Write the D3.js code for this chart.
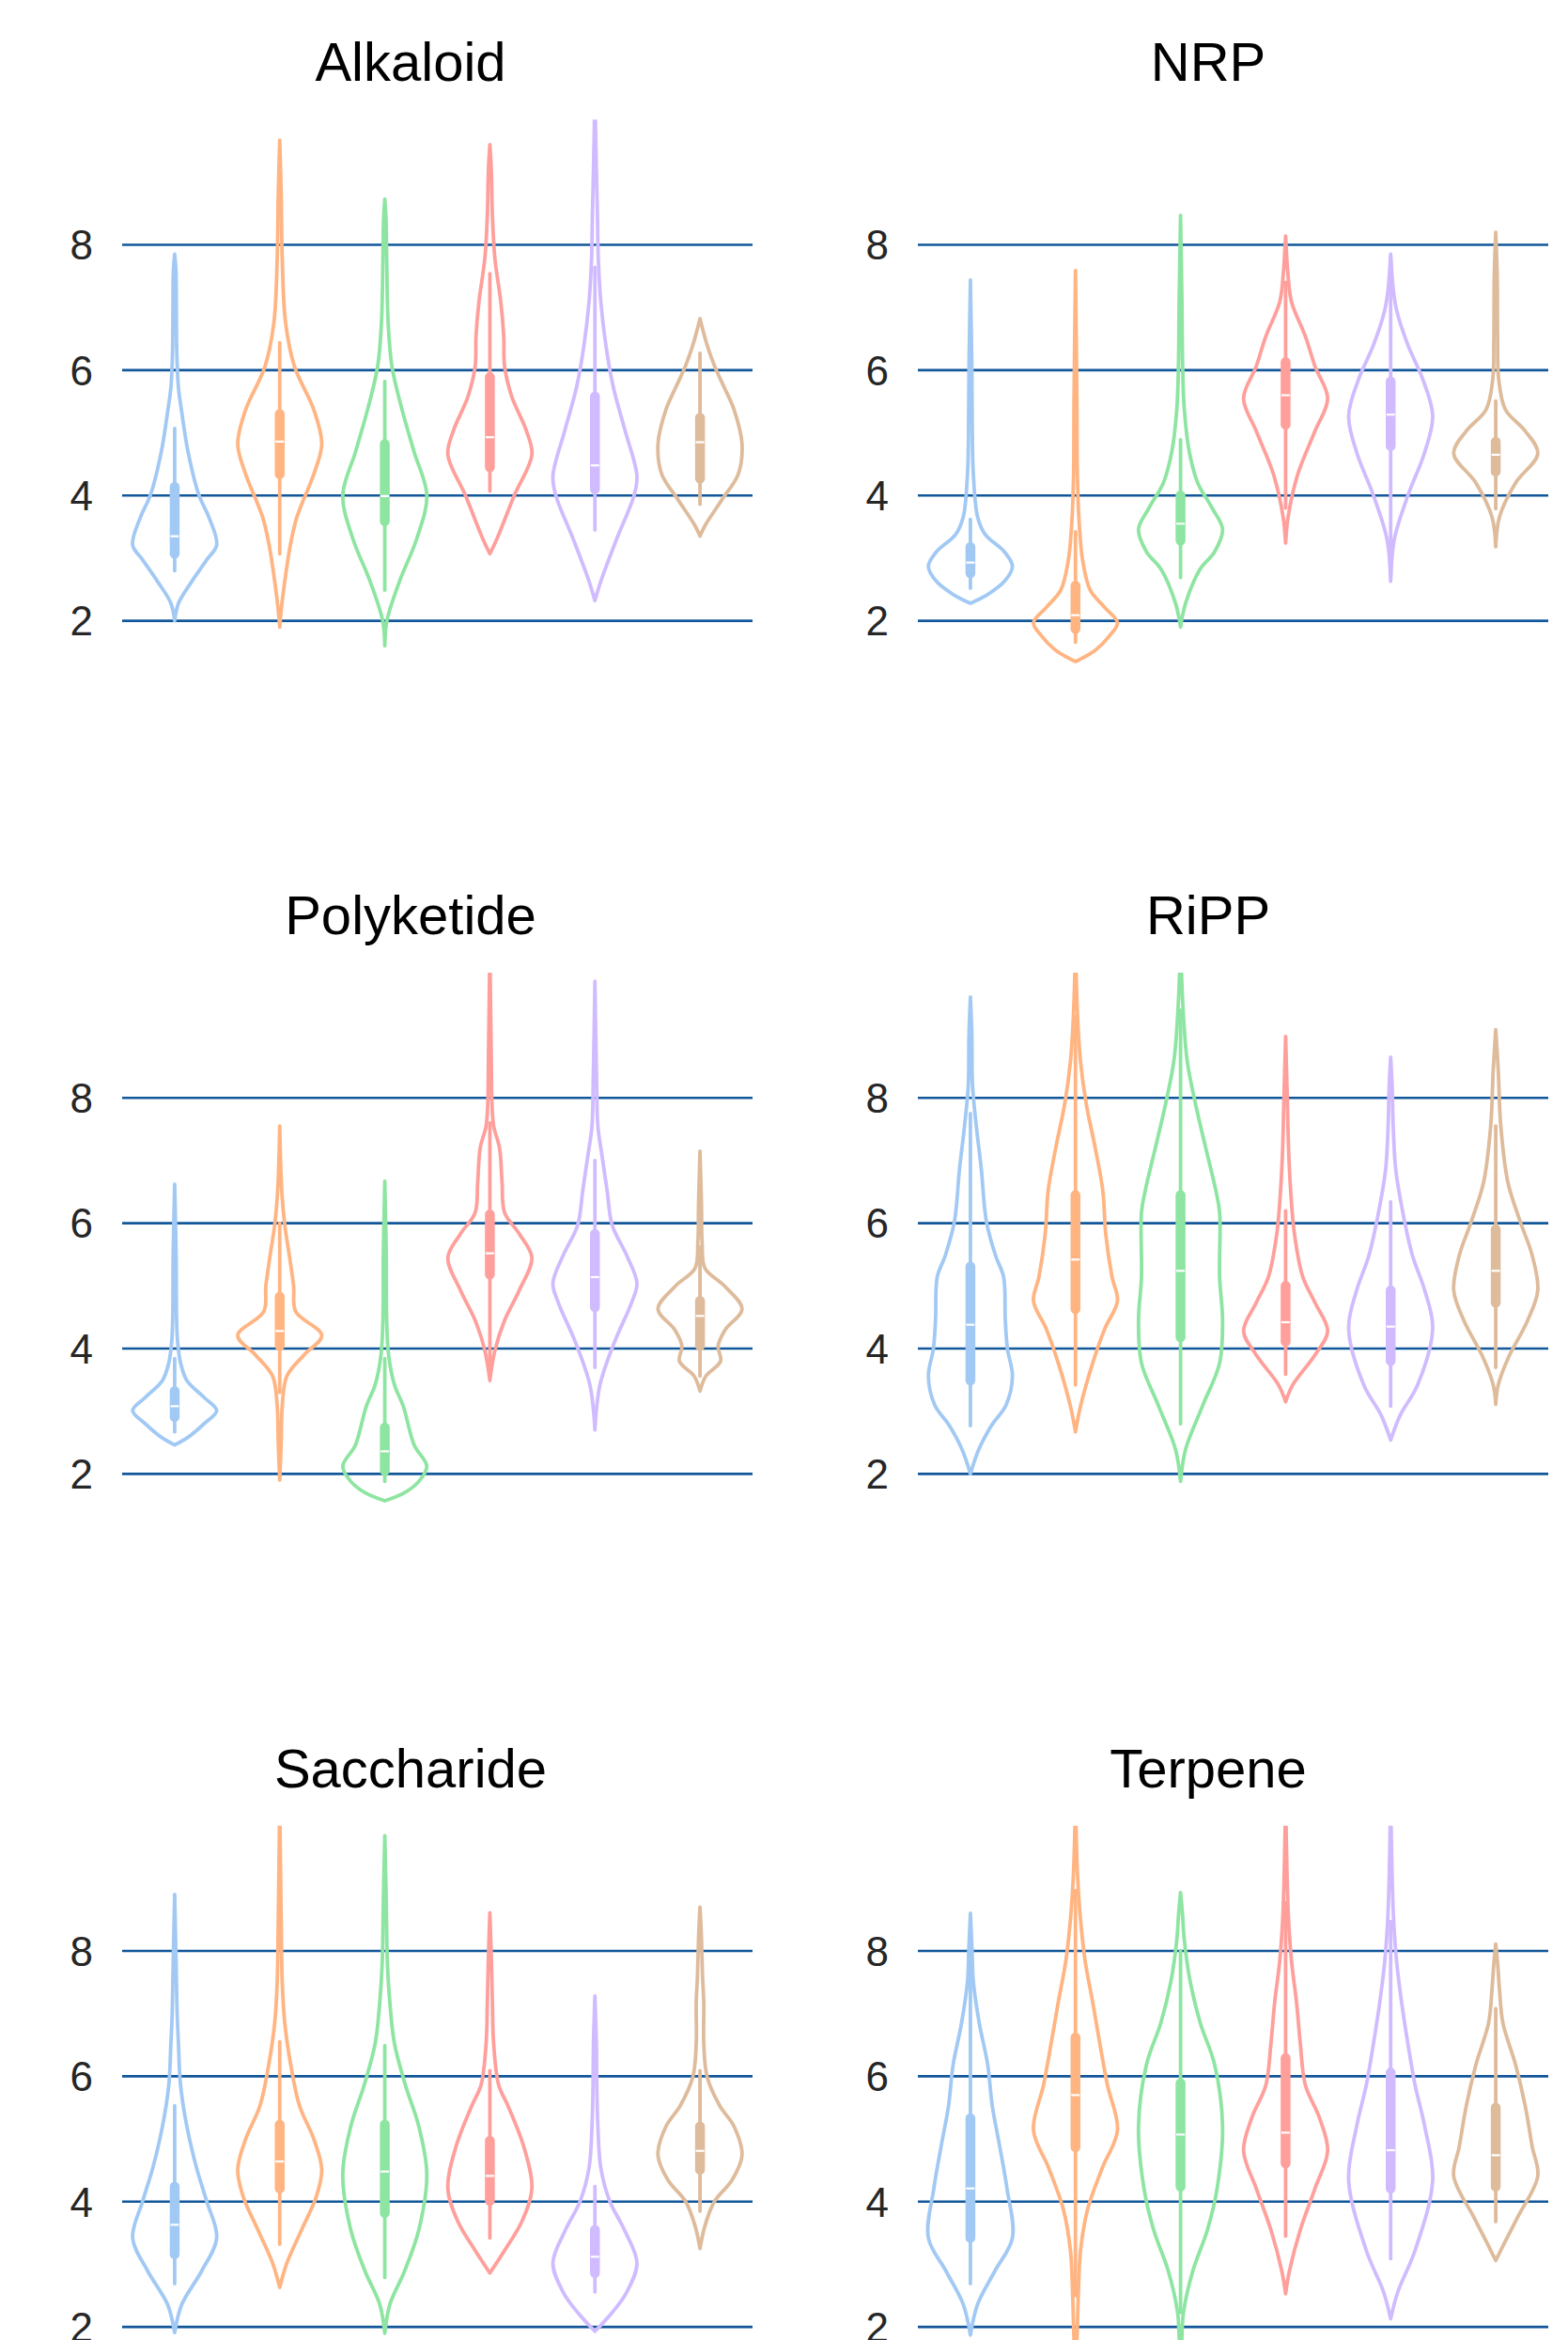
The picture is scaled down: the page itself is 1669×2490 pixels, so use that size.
<!DOCTYPE html>
<html>
<head>
<meta charset="utf-8">
<script src="https://cdn.jsdelivr.net/npm/d3@7"></script>
<style>
  body { margin: 0; padding: 0; background: #ffffff; }
</style>
</head>
<body>
<script>
// panel titles, in reading order
const panels = ["Alkaloid", "NRP", "Polyketide", "RiPP", "Saccharide", "Terpene"];
const groups = ["g1", "g2", "g3", "g4", "g5", "g6"];
const yTicks = [2, 4, 6, 8];
const palette = ["#a1c9f4", "#ffb482", "#8de5a1", "#ff9f9b", "#d0bbff", "#debb9b"];

// violin outlines: [value, relative half width]
const alkaloidShapes = [
  [[2.0,0],[2.28,0.09],[2.63,0.41],[2.97,0.76],[3.21,1.0],[3.66,0.81],[4.0,0.58],[4.69,0.32],[5.37,0.16],[5.72,0.09],[6.3,0.05],[7.0,0.04],[7.6,0.03],[7.85,0]],
  [[1.9,0],[2.2,0.04],[2.63,0.12],[3.2,0.25],[3.66,0.41],[4.34,0.81],[4.82,1.0],[5.37,0.81],[6.06,0.35],[6.75,0.14],[7.78,0.06],[8.81,0.035],[9.67,0]],
  [[1.6,0],[2.0,0.05],[2.63,0.35],[3.31,0.76],[4.0,1.0],[4.69,0.7],[5.37,0.41],[6.06,0.17],[6.75,0.08],[7.78,0.045],[8.4,0.03],[8.73,0]],
  [[3.07,0],[3.31,0.17],[4.0,0.58],[4.65,1.0],[5.03,0.87],[5.58,0.52],[6.06,0.35],[6.54,0.33],[7.09,0.26],[7.78,0.12],[8.47,0.06],[9.2,0.035],[9.6,0]],
  [[2.32,0],[2.63,0.14],[3.31,0.52],[4.0,0.93],[4.31,1.0],[5.03,0.72],[5.72,0.44],[6.4,0.26],[7.09,0.14],[7.78,0.08],[8.47,0.06],[9.2,0.035],[10.4,0]],
  [[3.35,0],[3.52,0.12],[3.93,0.52],[4.34,0.91],[4.82,1.0],[5.37,0.81],[5.72,0.58],[6.06,0.35],[6.4,0.17],[6.82,0]]
];
const nrpShapes = [
  [[2.28,0],[2.42,0.41],[2.63,0.81],[2.87,1.0],[3.1,0.81],[3.38,0.35],[3.66,0.17],[4.34,0.07],[5.0,0.045],[6.0,0.035],[7.44,0]],
  [[1.35,0],[1.53,0.47],[1.76,0.81],[1.97,1.0],[2.21,0.7],[2.49,0.35],[2.97,0.17],[3.66,0.08],[4.34,0.045],[5.5,0.035],[7.59,0]],
  [[1.9,0],[2.28,0.12],[2.83,0.47],[3.1,0.81],[3.46,1.0],[3.79,0.76],[4.2,0.41],[4.69,0.21],[5.37,0.09],[6.06,0.05],[7.0,0.035],[8.47,0]],
  [[3.24,0],[3.66,0.06],[4.34,0.29],[5.03,0.7],[5.55,1.0],[6.06,0.7],[6.54,0.47],[7.09,0.14],[7.5,0.06],[8.14,0]],
  [[2.63,0],[3.31,0.09],[4.0,0.41],[4.69,0.81],[5.27,1.0],[5.86,0.76],[6.4,0.41],[6.96,0.14],[7.3,0.06],[7.85,0]],
  [[3.18,0],[3.66,0.09],[4.2,0.47],[4.67,1.0],[5.03,0.7],[5.37,0.23],[5.86,0.07],[6.5,0.045],[7.5,0.035],[8.2,0]]
];
const polyketideShapes = [
  [[2.46,0],[2.6,0.35],[2.8,0.7],[3.01,1.0],[3.22,0.7],[3.49,0.29],[3.77,0.14],[4.11,0.07],[4.5,0.045],[5.5,0.035],[6.62,0]],
  [[1.9,0],[2.5,0.035],[3.08,0.06],[3.56,0.17],[3.9,0.58],[4.21,1.0],[4.59,0.38],[5.0,0.33],[5.48,0.23],[5.97,0.12],[6.5,0.05],[7.55,0]],
  [[1.57,0],[1.7,0.47],[1.88,0.81],[2.12,1.0],[2.46,0.7],[3.08,0.44],[3.42,0.23],[3.9,0.09],[4.45,0.045],[5.5,0.035],[6.67,0]],
  [[3.49,0],[3.97,0.12],[4.45,0.35],[4.93,0.7],[5.45,1.0],[5.83,0.7],[6.17,0.35],[6.65,0.29],[7.2,0.23],[7.55,0.09],[7.9,0.05],[8.6,0.035],[10.4,0]],
  [[2.7,0],[3.42,0.12],[4.11,0.47],[4.73,0.87],[5.04,1.0],[5.48,0.76],[5.97,0.41],[6.52,0.29],[7.07,0.17],[7.55,0.07],[8.3,0.04],[9.86,0]],
  [[3.32,0],[3.56,0.14],[3.8,0.49],[4.04,0.43],[4.3,0.6],[4.63,1.0],[5.0,0.58],[5.28,0.12],[5.7,0.05],[6.3,0.035],[7.15,0]]
];
const rippShapes = [
  [[2.0,0],[2.39,0.2],[2.77,0.5],[3.1,0.85],[3.56,1.0],[4.0,0.88],[4.45,0.83],[5.14,0.79],[5.48,0.6],[6.03,0.38],[6.86,0.26],[7.55,0.14],[8.2,0.05],[9.0,0.035],[9.61,0]],
  [[2.67,0],[3.08,0.12],[3.77,0.41],[4.32,0.7],[4.76,1.0],[5.14,0.87],[5.83,0.72],[6.52,0.65],[7.2,0.47],[7.89,0.26],[8.58,0.12],[9.3,0.05],[10.4,0]],
  [[1.88,0],[2.39,0.12],[3.08,0.52],[3.77,0.93],[4.45,1.0],[5.14,0.93],[6.17,0.93],[6.52,0.84],[7.2,0.6],[7.89,0.36],[8.58,0.16],[9.3,0.07],[10.4,0]],
  [[3.15,0],[3.42,0.17],[3.9,0.7],[4.28,1.0],[4.73,0.7],[5.14,0.41],[5.83,0.21],[6.52,0.12],[7.2,0.07],[8.0,0.04],[8.98,0]],
  [[2.54,0],[2.94,0.23],[3.42,0.64],[4.32,1.0],[4.93,0.81],[5.48,0.52],[6.17,0.29],[6.86,0.12],[7.55,0.06],[8.2,0.035],[8.65,0]],
  [[3.11,0],[3.42,0.06],[3.84,0.29],[4.45,0.76],[4.93,1.0],[5.48,0.87],[6.03,0.58],[6.65,0.29],[7.55,0.12],[8.44,0.06],[9.09,0]]
];
const saccharideShapes = [
  [[1.91,0],[2.36,0.17],[2.89,0.64],[3.42,1.0],[4.01,0.76],[4.54,0.52],[5.2,0.29],[5.86,0.14],[6.52,0.09],[6.98,0.06],[7.8,0.035],[8.9,0]],
  [[2.63,0],[3.02,0.17],[3.55,0.52],[4.08,0.87],[4.51,1.0],[5.0,0.81],[5.53,0.47],[6.19,0.26],[6.85,0.12],[7.5,0.06],[8.5,0.035],[10.4,0]],
  [[1.9,0],[2.36,0.12],[2.89,0.47],[3.55,0.81],[4.44,1.0],[5.2,0.81],[5.86,0.49],[6.52,0.23],[7.18,0.12],[7.84,0.06],[8.8,0.035],[9.84,0]],
  [[2.86,0],[3.22,0.35],[3.68,0.76],[4.21,1.0],[4.87,0.81],[5.53,0.43],[5.86,0.21],[6.52,0.09],[7.18,0.06],[7.9,0.035],[8.61,0]],
  [[1.93,0],[2.23,0.41],[2.56,0.76],[3.02,1.0],[3.55,0.7],[4.01,0.35],[4.54,0.14],[5.2,0.07],[5.86,0.045],[6.52,0.035],[7.28,0]],
  [[3.25,0],[3.62,0.12],[4.01,0.35],[4.34,0.76],[4.74,1.0],[5.2,0.81],[5.53,0.47],[5.99,0.17],[6.52,0.09],[7.18,0.09],[7.6,0.06],[8.2,0.035],[8.7,0]]
];
const terpeneShapes = [
  [[1.87,0],[2.36,0.17],[2.89,0.58],[3.42,1.0],[4.21,0.87],[4.87,0.7],[5.53,0.52],[6.19,0.41],[6.85,0.21],[7.51,0.07],[8.0,0.04],[8.6,0]],
  [[1.3,0],[1.8,0.035],[2.56,0.07],[3.22,0.12],[3.88,0.29],[4.54,0.64],[5.14,1.0],[5.86,0.76],[6.52,0.58],[7.18,0.41],[7.84,0.23],[8.5,0.12],[9.2,0.05],[10.4,0]],
  [[1.4,0],[1.8,0.03],[2.23,0.07],[2.89,0.29],[3.55,0.64],[4.21,0.87],[5.2,1.0],[6.19,0.81],[6.85,0.47],[7.51,0.23],[8.17,0.09],[8.6,0.045],[8.93,0]],
  [[2.53,0],[2.89,0.09],[3.55,0.35],[4.21,0.7],[4.81,1.0],[5.33,0.81],[5.86,0.47],[6.52,0.35],[7.18,0.26],[7.84,0.14],[8.5,0.07],[9.2,0.035],[10.4,0]],
  [[2.13,0],[2.56,0.17],[3.22,0.58],[4.34,1.0],[5.2,0.81],[5.86,0.58],[6.52,0.41],[7.18,0.26],[7.84,0.14],[8.5,0.07],[9.2,0.035],[10.4,0]],
  [[3.06,0],[3.29,0.17],[3.75,0.52],[4.41,1.0],[4.87,0.87],[5.53,0.7],[6.19,0.47],[6.85,0.17],[7.38,0.09],[7.8,0.045],[8.11,0]]
];

// inner box: [whisker low, q1, median, q3, whisker high]
const alkaloidBoxes = [[2.8,3.07,3.35,4.14,5.07],[3.07,4.34,4.86,5.3,6.44],[2.49,3.59,3.99,4.82,5.82],[4.07,4.45,4.93,5.89,7.54],[3.45,4.1,4.48,5.58,7.64],[3.86,4.27,4.85,5.24,6.27]];
const nrpBoxes = [[2.52,2.76,2.93,3.18,3.62],[1.66,1.87,2.09,2.56,3.42],[2.69,3.28,3.55,4.0,4.89],[3.8,5.13,5.6,6.13,7.4],[2.7,4.79,5.29,5.82,7.8],[3.79,4.38,4.65,4.86,5.51]];
const polyketideBoxes = [[2.67,2.91,3.08,3.32,3.84],[3.3,4.04,4.28,4.83,6.0],[1.88,2.05,2.36,2.74,3.84],[3.7,5.18,5.52,6.14,7.6],[3.7,4.66,5.14,5.83,7.0],[3.56,4.04,4.52,4.76,5.62]];
const rippBoxes = [[2.77,3.49,4.38,5.31,7.75],[3.42,4.63,5.42,6.45,9.3],[2.8,4.18,5.24,6.45,9.4],[3.59,4.11,4.42,5.0,6.2],[3.08,3.8,4.35,4.93,6.34],[3.7,4.73,5.24,5.9,7.55]];
const saccharideBoxes = [[2.69,3.16,3.63,4.24,5.53],[3.32,4.21,4.64,5.23,6.55],[2.79,3.82,4.48,5.23,6.49],[3.42,4.01,4.41,4.97,6.09],[2.56,2.86,3.12,3.55,4.24],[3.85,4.51,4.81,5.2,6.09]];
const terpeneBoxes = [[2.69,3.42,4.21,5.33,7.97],[2.5,4.87,5.7,6.62,8.96],[2.23,4.24,5.07,5.89,8.0],[3.45,4.61,5.1,6.29,8.77],[3.09,4.21,4.82,6.06,8.47],[3.68,4.24,4.74,5.5,7.08]];

const allShapes = [alkaloidShapes, nrpShapes, polyketideShapes, rippShapes, saccharideShapes, terpeneShapes];
const allBoxes = [alkaloidBoxes, nrpBoxes, polyketideBoxes, rippBoxes, saccharideBoxes, terpeneBoxes];

const width = 1669;
const height = 2490;
const colX = [130, 977];
const panelW = 671;
const rowStep = 907.75;
const y8 = 260.5;
const y2 = 660.6;
const titleX = [437, 1286];

const svg = d3.select("body")
  .append("svg")
  .attr("xmlns", "http://www.w3.org/2000/svg")
  .attr("width", width)
  .attr("height", height)
  .attr("viewBox", `0 0 ${width} ${height}`)
  .style("font-family", "'Liberation Sans', Arial, sans-serif")
  .style("background", "#ffffff");

const defs = svg.append("defs");

panels.forEach((name, i) => {
  const col = i % 2;
  const row = Math.floor(i / 2);
  const off = row * rowStep;

  const x = d3.scaleBand().domain(groups).range([colX[col], colX[col] + panelW]).padding(0);
  const y = d3.scaleLinear().domain([2, 8]).range([y2 + off, y8 + off]);
  const w = d3.scaleLinear().domain([0, 1]).range([0, x.bandwidth() * 0.4]);

  const g = svg.append("g");

  // title
  g.append("text")
    .attr("x", titleX[col])
    .attr("y", 86 + off)
    .attr("text-anchor", "middle")
    .attr("fill", "#000000")
    .style("font-size", "58px")
    .text(name);

  // gridlines
  g.append("g")
    .selectAll("line")
    .data(yTicks)
    .join("line")
    .attr("x1", colX[col])
    .attr("x2", colX[col] + panelW)
    .attr("y1", (d) => y(d))
    .attr("y2", (d) => y(d))
    .attr("stroke", "#12579a")
    .attr("stroke-width", 2.6);

  // tick labels
  g.append("g")
    .selectAll("text")
    .data(yTicks)
    .join("text")
    .attr("x", colX[col] - 31)
    .attr("y", (d) => y(d))
    .attr("dy", "0.36em")
    .attr("text-anchor", "end")
    .attr("fill", "#262626")
    .style("font-size", "44px")
    .text((d) => d);

  // clip at the axes limits
  const clipId = `clip${i}`;
  defs.append("clipPath")
    .attr("id", clipId)
    .append("rect")
    .attr("x", colX[col] - 10)
    .attr("y", y(10))
    .attr("width", panelW + 20)
    .attr("height", y(1.0) - y(10));

  const plot = g.append("g").attr("clip-path", `url(#${clipId})`);

  groups.forEach((grp, k) => {
    const cx = x(grp) + x.bandwidth() / 2;
    const color = palette[k];
    const shape = allShapes[i][k];
    const box = allBoxes[i][k];

    const area = d3.area()
      .y((d) => y(d[0]))
      .x0((d) => cx - w(d[1]))
      .x1((d) => cx + w(d[1]))
      .curve(d3.curveCatmullRom.alpha(0.5));

    plot.append("path")
      .attr("d", area(shape))
      .attr("fill", "none")
      .attr("stroke", color)
      .attr("stroke-width", 3.8)
      .attr("stroke-linejoin", "round");

    // whisker
    plot.append("line")
      .attr("x1", cx).attr("x2", cx)
      .attr("y1", y(box[0])).attr("y2", y(box[4]))
      .attr("stroke", color)
      .attr("stroke-width", 3.8)
      .attr("stroke-linecap", "round");

    // box
    plot.append("line")
      .attr("x1", cx).attr("x2", cx)
      .attr("y1", y(box[1])).attr("y2", y(box[3]))
      .attr("stroke", color)
      .attr("stroke-width", 10.5)
      .attr("stroke-linecap", "round");

    // median
    plot.append("line")
      .attr("x1", cx - 4.5).attr("x2", cx + 4.5)
      .attr("y1", y(box[2])).attr("y2", y(box[2]))
      .attr("stroke", "#ffffff")
      .attr("stroke-width", 2.2);
  });
});
</script>
</body>
</html>
